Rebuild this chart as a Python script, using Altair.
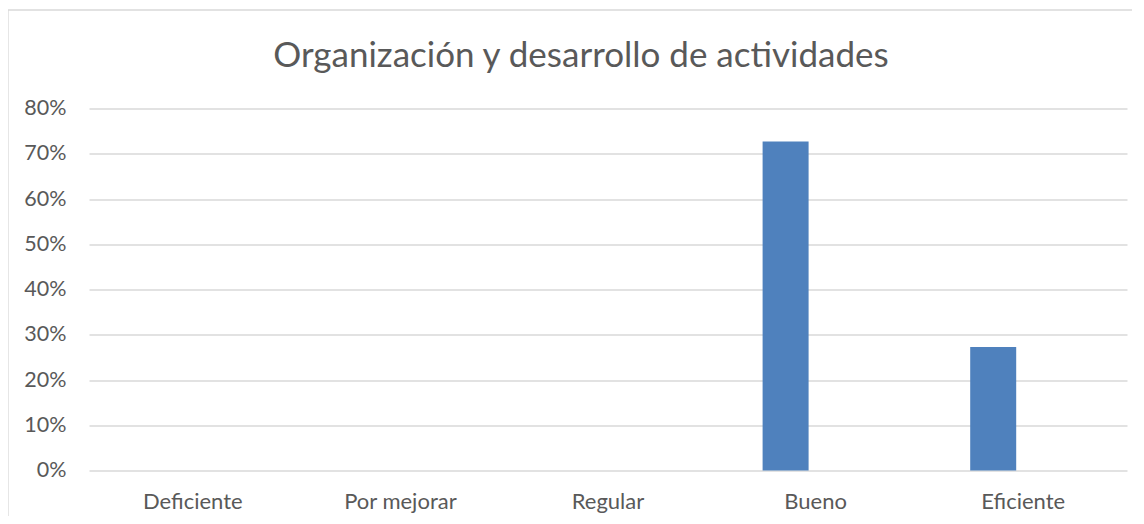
import altair as alt
import pandas as pd

categories = ["Deficiente", "Por mejorar", "Regular", "Bueno", "Eficiente"]
values = [0.0, 0.0, 0.0, 0.727, 0.273]
y_ticks = [0, 0.1, 0.2, 0.3, 0.4, 0.5, 0.6, 0.7, 0.8]

df = pd.DataFrame({"cat": categories, "val": values})

FONT = "Lato"
TXT = "#595959"
GRID = "#d9d9d9"

bars = alt.Chart(df).mark_bar(width=46, xOffset=-30, color="#4f81bd").encode(
    x=alt.X("cat:N", sort=categories,
            scale=alt.Scale(paddingInner=0, paddingOuter=0),
            axis=alt.Axis(title=None, labelAngle=0, ticks=False, domain=False,
                          labelPadding=21, labelFontSize=22, labelColor=TXT,
                          labelFont=FONT, grid=False)),
    y=alt.Y("val:Q", scale=alt.Scale(domain=[0, 0.8], nice=False),
            axis=alt.Axis(title=None, format=".0%", values=y_ticks, ticks=False,
                          domain=False, labelPadding=23, labelFontSize=21.5,
                          labelColor=TXT, labelFont=FONT, grid=True,
                          gridColor=GRID, gridWidth=1.3)),
)

border = alt.Chart(alt.Data(values=[{}])).mark_rect(
    fill=None, stroke=GRID, strokeWidth=1.3, clip=False
).encode(
    x=alt.value(-81), x2=alt.value(1060), y=alt.value(-98.5), y2=alt.value(430)
)

chart = alt.layer(border, bars).properties(
    width=1038, height=362,
    title=alt.TitleParams("Organización y desarrollo de actividades",
                          font=FONT, fontSize=35, fontWeight="normal",
                          color=TXT, dx=-27, offset=-65),
    autosize=alt.AutoSizeParams(type="none"),
    padding={"left": 81, "top": 100.5, "right": 5, "bottom": 45},
).configure_view(stroke=None)

chart.save("out.html", embed_options={"renderer": "svg", "actions": False})
